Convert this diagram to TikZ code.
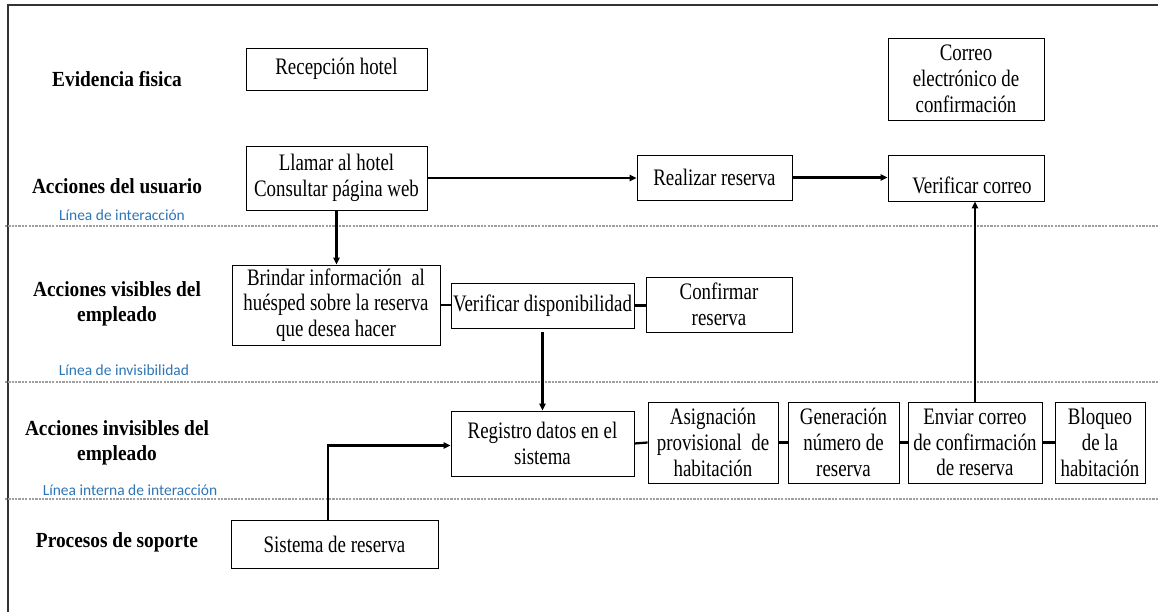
\documentclass[tikz,border=0pt]{standalone}
\usepackage{fontspec}
\setmainfont{Liberation Serif}
\newfontfamily\cajafont[FakeStretch=0.8]{Liberation Serif}
\newfontfamily\carrilfont[FakeStretch=0.9]{Liberation Serif}
\newfontfamily\lineafont{Carlito}
\usepackage{tikz}
\usetikzlibrary{arrows.meta}

\definecolor{lineablue}{RGB}{46,117,182}

\tikzset{
  caja/.style={draw, line width=0.6pt, align=center, inner sep=1pt,
    font=\cajafont\fontsize{16.8}{18.3}\selectfont},
  carril/.style={align=center, font=\carrilfont\fontsize{15.3}{17.5}\selectfont\bfseries},
  linea/.style={font=\lineafont\fontsize{11}{13}\selectfont, text=lineablue},
  sep/.style={gray!75, line width=0.8pt, dash pattern=on 1.6pt off 0.8pt},
  flecha/.style={line width=1.6pt, -{Triangle[length=5pt,width=4.5pt]}},
  enlace/.style={line width=1.6pt}
}

\begin{document}
\begin{tikzpicture}[x=0.025cm, y=-0.025cm]
    \useasboundingbox (0,0) rectangle (1158,612);

    % marco
    \draw[line width=1.1pt, black!80] (8,612) -- (8,5) -- (1158,5);

    % lineas de separacion
    \draw[sep] (5,226) -- (1158,226);
    \draw[sep] (5,382) -- (1158,382);
    \draw[sep] (5,499) -- (1158,499);

    % carriles
    \node[carril] (evid) at (117,79) {Evidencia fisica};
    \node[carril] (usua) at (117,186) {Acciones del usuario};
    \node[carril] (visi) at (117,304) {Acciones visibles del\\empleado};
    \node[carril] (invi) at (117,443) {Acciones invisibles del\\empleado};
    \node[carril] (sopo) at (117,542) {Procesos de soporte};

    \node[linea] (linter) at (122,215) {Línea de interacción};
    \node[linea] (linvis) at (124,370) {Línea de invisibilidad};
    \node[linea] (linint) at (130,490) {Línea interna de interacción};

    % cajas
    \node[caja, minimum width=4.525cm, minimum height=1.05cm] (recep) at (336.5,69) {Recepción hotel};
    \node[caja, minimum width=3.9cm, minimum height=2.05cm] (correo) at (966,79) {Correo\\electrónico de\\confirmación};
    \node[caja, minimum width=4.525cm, minimum height=1.6cm] (llamar) at (336.5,178) {Llamar al hotel\\Consultar página web};
    \node[caja, minimum width=3.875cm, minimum height=1.125cm] (realiz) at (714.5,177.5) {Realizar reserva};
    \node[caja, minimum width=3.9cm, minimum height=1.15cm] (vcorreo) at (966,178) {\strut\\[-9pt]\hspace*{0.5em}Verificar correo};
    \node[caja, minimum width=5.2cm, minimum height=2cm] (brind) at (336,305) {Brindar información \ al\\huésped sobre la reserva\\que desea hacer};
    \node[caja, minimum width=4.575cm, minimum height=1.125cm] (vdisp) at (542.5,305.5) {Verificar disponibilidad};
    \node[caja, minimum width=3.65cm, minimum height=1.375cm] (confir) at (719,304.5) {Confirmar\\reserva};
    \node[caja, minimum width=4.575cm, minimum height=1.625cm] (regis) at (542.5,443.5) {Registro datos en el\\sistema};
    \node[caja, minimum width=3.25cm, minimum height=2.025cm] (asign) at (713,442.5) {Asignación\\provisional \ de\\habitación};
    \node[caja, minimum width=2.775cm, minimum height=2.025cm] (gener) at (843.5,442.5) {Generación\\número de\\reserva};
    \node[caja, minimum width=3.35cm, minimum height=2.025cm] (envia) at (975,442.5) {Enviar correo\\de confirmación\\de reserva};
    \node[caja, minimum width=2.25cm, minimum height=2.025cm] (bloq) at (1100,442.5) {Bloqueo\\de la\\habitación};
    \node[caja, minimum width=5.175cm, minimum height=1.2cm] (sistem) at (334.5,544) {Sistema de reserva};

    % conectores
    \draw[flecha] (llamar.east) -- (llamar.east -| realiz.west);
    \draw[flecha] (realiz.east) -- (realiz.east -| vcorreo.west);
    \draw[flecha] (llamar.south) -- (llamar.south |- brind.north);
    \draw[enlace] (brind.east) -- (brind.east -| vdisp.west);
    \draw[enlace] (vdisp.east) -- (vdisp.east -| confir.west);
    \draw[flecha] ([yshift=-0.1cm]vdisp.south) -- (regis.north);
    \draw[flecha] ([xshift=-0.16cm]sistem.north) |- ([yshift=-0.05cm]regis.west);
    \draw[enlace] (regis.east) -- (asign.west);
    \draw[enlace] (asign.east) -- (gener.west);
    \draw[enlace] (gener.east) -- (envia.west);
    \draw[enlace] (envia.east) -- (bloq.west);
    \draw[flecha] (envia.north) -- (envia.north |- vcorreo.south);
\end{tikzpicture}
\end{document}
